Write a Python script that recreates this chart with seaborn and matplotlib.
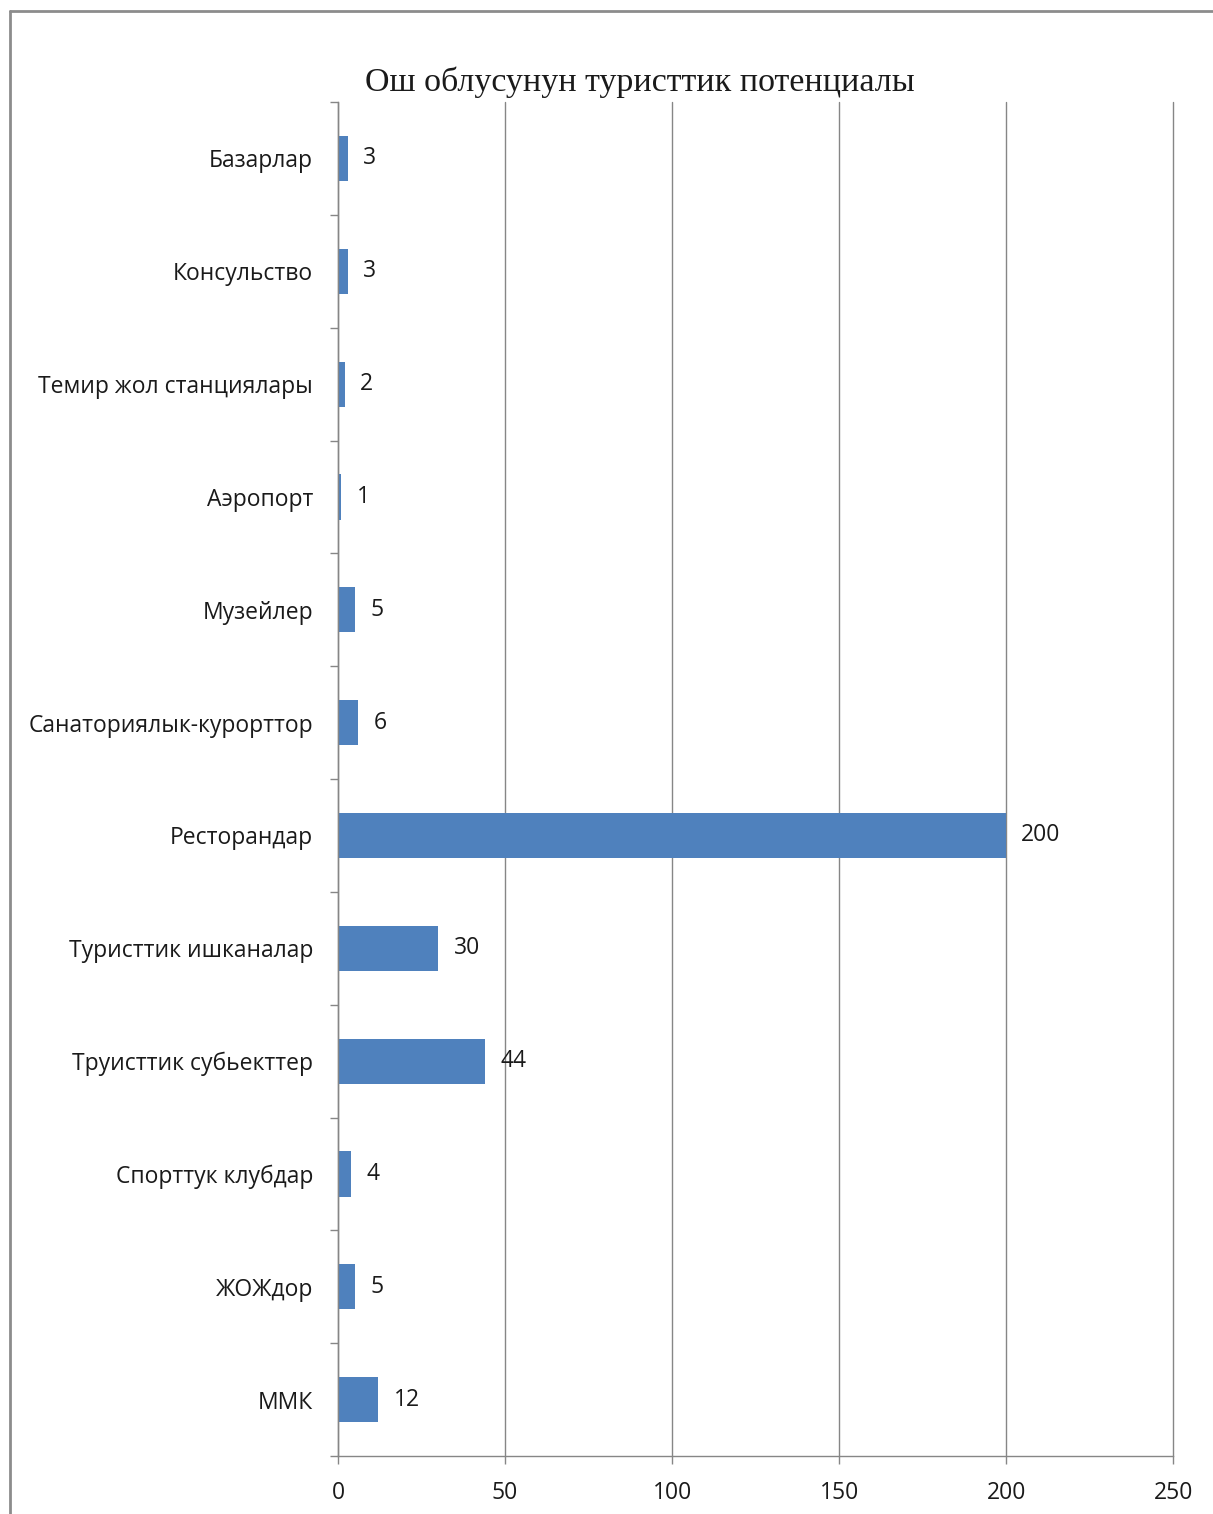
import pandas as pd
import seaborn as sns
import matplotlib.pyplot as plt
from matplotlib.lines import Line2D
from matplotlib.ticker import FixedLocator

categories = ['Базарлар', 'Консульство', 'Темир жол станциялары', 'Аэропорт',
              'Музейлер', 'Санаториялык-курорттор', 'Ресторандар',
              'Туристтик ишканалар', 'Труисттик субьекттер', 'Спорттук клубдар',
              'ЖОЖдор', 'ММК']
values = [3, 3, 2, 1, 5, 6, 200, 30, 44, 4, 5, 12]
xticks = [0, 50, 100, 150, 200, 250]

df = pd.DataFrame({'Категория': categories, 'Саны': values})

sns.set_style("white")
plt.rcParams['font.family'] = ['Open Sans', 'DejaVu Sans']

fig = plt.figure(figsize=(12.13, 15.14), dpi=100)
ax = fig.add_axes([0.2787, 0.0383, 0.6884, 0.8943])

sns.barplot(data=df, x='Саны', y='Категория', orient='h', color='#4F81BD',
            saturation=1, width=0.4, linewidth=0, ax=ax)

grey = '#868686'
txt = '#1a1a1a'
ax.set_xlim(0, 250)
ax.set_ylim(11.5, -0.5)
ax.set_xticks(xticks)
ax.set_xticklabels([str(t) for t in xticks], fontsize=16.5, color=txt)
ax.set_yticks(range(len(categories)))
ax.set_yticklabels(categories, fontsize=16.5, color=txt)
ax.yaxis.set_minor_locator(FixedLocator([i - 0.5 for i in range(len(categories) + 1)]))
ax.tick_params(axis='y', which='major', length=0, pad=18)
ax.tick_params(axis='y', which='minor', length=6, width=1, color=grey, direction='out', left=True)
ax.tick_params(axis='x', length=6, width=1, color=grey, direction='out', bottom=True, pad=12)
ax.set_xlabel('')
ax.set_ylabel('')

ax.grid(axis='x', color=grey, linewidth=1)
for gl in ax.get_xgridlines():
    gl.set_clip_on(False)
ax.set_axisbelow(True)
for side in ['top', 'right']:
    ax.spines[side].set_visible(False)
for side in ['left', 'bottom']:
    ax.spines[side].set_color(grey)
    ax.spines[side].set_linewidth(1)

for c in ax.containers:
    ax.bar_label(c, labels=[str(v) for v in values], padding=11, fontsize=16.5, color=txt)

fig.text(640 / 1213, 1 - 82 / 1514, 'Ош облусунун туристтик потенциалы',
         ha='center', va='center', fontsize=24.5, color=txt,
         family=['Liberation Serif', 'DejaVu Serif'])

# outer chart frame
fig.add_artist(Line2D([10 / 1213, 10 / 1213], [0, 1 - 11 / 1514], transform=fig.transFigure,
                      color='#8c8c8c', linewidth=2))
fig.add_artist(Line2D([10 / 1213, 1], [1 - 11 / 1514, 1 - 11 / 1514], transform=fig.transFigure,
                      color='#8c8c8c', linewidth=2))

plt.savefig('out.png', dpi=100)
